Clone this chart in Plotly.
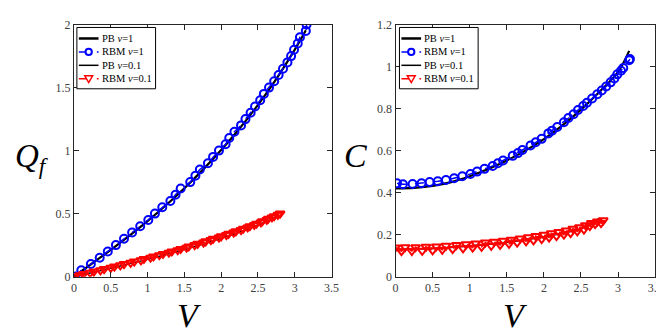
"""Two panel plot: surface charge Q_f and capacitance C against voltage V,
PB curves vs RBM samples for nu=1 and nu=0.1
"""
import plotly.graph_objs as go

# PB nu=1 (solid black)
pb1_v = [0.0, 0.25, 0.5, 0.75, 1.0, 1.25, 1.5, 1.75, 2.0, 2.25, 2.5, 2.75, 3.0, 3.15]
pb1_q = [0.0, 0.106, 0.213, 0.324, 0.441, 0.566, 0.701, 0.847, 1.004, 1.175, 1.363, 1.570, 1.801, 1.955]
pb1_c = [0.420, 0.423, 0.432, 0.450, 0.478, 0.512, 0.553, 0.600, 0.655, 0.720, 0.795, 0.880, 0.975, 1.075]

# RBM nu=1 (blue circles)
rbm1_v = [0.02, 0.10, 0.23, 0.35, 0.46, 0.57, 0.68, 0.79, 0.90, 1.01,
          1.10, 1.20, 1.31, 1.38, 1.45, 1.58, 1.65, 1.71, 1.82, 1.89,
          1.97, 2.06, 2.11, 2.18, 2.27, 2.33, 2.40, 2.46, 2.53, 2.58,
          2.65, 2.72, 2.78, 2.84, 2.90, 2.95, 2.99, 3.04, 3.07, 3.15, 3.16]
rbm1_q = [0.00, 0.05, 0.10, 0.15, 0.20, 0.25, 0.30, 0.35, 0.40, 0.45,
          0.50, 0.55, 0.60, 0.65, 0.70, 0.75, 0.80, 0.85, 0.90, 0.95,
          1.00, 1.05, 1.10, 1.15, 1.20, 1.25, 1.30, 1.35, 1.40, 1.45,
          1.50, 1.55, 1.60, 1.65, 1.70, 1.75, 1.80, 1.85, 1.90, 1.95, 2.00]
rbm1_c = [0.444, 0.440, 0.441, 0.445, 0.450, 0.454, 0.460, 0.468, 0.478, 0.489,
          0.500, 0.513, 0.527, 0.540, 0.553, 0.575, 0.588, 0.603, 0.624, 0.640,
          0.656, 0.682, 0.695, 0.712, 0.735, 0.755, 0.773, 0.793, 0.812, 0.828,
          0.848, 0.868, 0.886, 0.905, 0.925, 0.943, 0.963, 0.980, 0.993, 1.030, 1.036]

# PB nu=0.1 (solid black)
pb01_v = [0.0, 0.25, 0.5, 0.75, 1.0, 1.25, 1.5, 1.75, 2.0, 2.25, 2.5, 2.6, 2.75]
pb01_q = [0.0, 0.033, 0.066, 0.101, 0.137, 0.175, 0.215, 0.258, 0.304, 0.354, 0.410, 0.433, 0.475]
pb01_c = [0.130, 0.131, 0.134, 0.139, 0.146, 0.154, 0.164, 0.176, 0.190, 0.207, 0.228, 0.247, 0.278]

# RBM nu=0.1 (red triangles)
rbm01_v = [0.00, 0.08, 0.13, 0.22, 0.27, 0.36, 0.41, 0.50, 0.55, 0.63,
           0.68, 0.77, 0.82, 0.91, 0.95, 1.04, 1.08, 1.16, 1.21, 1.29,
           1.33, 1.41, 1.45, 1.53, 1.56, 1.64, 1.68, 1.76, 1.79, 1.86,
           1.89, 1.97, 2.00, 2.07, 2.10, 2.17, 2.20, 2.27, 2.30, 2.36,
           2.39, 2.45, 2.48, 2.54, 2.56, 2.62, 2.64, 2.69, 2.72, 2.77, 2.80]
rbm01_q = [0.00, 0.01, 0.02, 0.03, 0.04, 0.05, 0.06, 0.07, 0.08, 0.09,
           0.10, 0.11, 0.12, 0.13, 0.14, 0.15, 0.16, 0.17, 0.18, 0.19,
           0.20, 0.21, 0.22, 0.23, 0.24, 0.25, 0.26, 0.27, 0.28, 0.29,
           0.30, 0.31, 0.32, 0.33, 0.34, 0.35, 0.36, 0.37, 0.38, 0.39,
           0.40, 0.41, 0.42, 0.43, 0.44, 0.45, 0.46, 0.47, 0.48, 0.49, 0.50]
rbm01_c = [0.139, 0.121, 0.140, 0.122, 0.140, 0.123, 0.142, 0.125, 0.144, 0.128,
           0.147, 0.131, 0.150, 0.135, 0.154, 0.138, 0.158, 0.142, 0.162, 0.147,
           0.166, 0.151, 0.171, 0.156, 0.176, 0.162, 0.182, 0.168, 0.187, 0.173,
           0.193, 0.179, 0.199, 0.186, 0.206, 0.193, 0.213, 0.200, 0.220, 0.207,
           0.228, 0.215, 0.235, 0.224, 0.245, 0.241, 0.255, 0.250, 0.262, 0.255, 0.268]

legend_names = ['PB <i>ν</i>=1', 'RBM <i>ν</i>=1', 'PB <i>ν</i>=0.1', 'RBM <i>ν</i>=0.1']

SERIF = 'Liberation Serif'
W, H = 664, 336


def traces(ycol, xaxis, yaxis):
    pb1_y, rbm1_y, pb01_y, rbm01_y = ycol
    common = dict(xaxis=xaxis, yaxis=yaxis, showlegend=False)
    return [
        go.Scatter(x=pb1_v, y=pb1_y, name=legend_names[0], mode='lines',
                   line=dict(color='black', width=2.2, shape='spline'), **common),
        go.Scatter(x=rbm1_v, y=rbm1_y, name=legend_names[1], mode='lines+markers',
                   line=dict(color='#0000ff', width=1.5, dash='dash'),
                   marker=dict(symbol='circle-open', size=8, color='#0000ff',
                               line=dict(width=2)), **common),
        go.Scatter(x=pb01_v, y=pb01_y, name=legend_names[2], mode='lines',
                   line=dict(color='black', width=1.5, shape='spline'), **common),
        go.Scatter(x=rbm01_v, y=rbm01_y, name=legend_names[3], mode='lines+markers',
                   line=dict(color='#ff0000', width=1.5, dash='dash'),
                   marker=dict(symbol='triangle-down-open', size=8, color='#ff0000',
                               line=dict(width=2)), **common),
    ]


data = traces([pb1_q, rbm1_q, pb01_q, rbm01_q], 'x', 'y') + \
       traces([pb1_c, rbm1_c, pb01_c, rbm01_c], 'x2', 'y2')


def axis(domain, rng, dtick, anchor):
    return dict(domain=domain, range=rng, dtick=dtick, anchor=anchor,
                showgrid=False, zeroline=False, showline=True, mirror='ticks',
                linecolor='#262626', linewidth=1, ticks='inside', ticklen=5,
                tickcolor='#262626', tickfont=dict(family=SERIF, size=12, color='#404040'))


def px(x):
    return x / W


def py(y):
    return 1 - y / H


# hand drawn legend box (matlab style: short keys, tight rows)
def legend_box(x0):
    shapes, notes = [], []
    shapes.append(dict(type='rect', xref='paper', yref='paper',
                       x0=px(x0), x1=px(x0 + 80), y0=py(13), y1=py(77),
                       fillcolor='white', line=dict(color='black', width=1)))
    rows = [24.5, 38.5, 52.5, 66.5]
    keys = [('black', 2.5, 'solid'), ('#0000ff', 1.5, 'dash'),
            ('black', 1.5, 'solid'), ('#ff0000', 1.5, 'dash')]
    for row, (col, wid, dash), name in zip(rows, keys, legend_names):
        shapes.append(dict(type='line', xref='paper', yref='paper',
                           x0=px(x0 + 2), x1=px(x0 + 22), y0=py(row), y1=py(row),
                           line=dict(color=col, width=wid, dash=dash)))
        notes.append(dict(text=name, x=px(x0 + 23), y=py(row), xref='paper', yref='paper',
                          xanchor='left', yanchor='middle', showarrow=False,
                          font=dict(family=SERIF, size=10.5, color='black')))
    mx = x0 + 12
    shapes.append(dict(type='circle', xref='paper', yref='paper',
                       x0=px(mx - 3.2), x1=px(mx + 3.2), y0=py(rows[1] + 3.2), y1=py(rows[1] - 3.2),
                       fillcolor='white', line=dict(color='#0000ff', width=2)))
    r = rows[3]
    path = 'M {} {} L {} {} L {} {} Z'.format(px(mx - 4), py(r - 3), px(mx + 4), py(r - 3),
                                              px(mx), py(r + 4))
    shapes.append(dict(type='path', xref='paper', yref='paper', path=path,
                       fillcolor='white', line=dict(color='#ff0000', width=1.5)))
    return shapes, notes


shapes_l, notes_l = legend_box(67)
shapes_r, notes_r = legend_box(395)

labels = [
    dict(text='<i>Q</i><sub><i>f</i></sub>', x=px(2), y=py(150), size=33, xanchor='left'),
    dict(text='<i>V</i>', x=px(182), y=py(314), size=34),
    dict(text='<i>C</i>', x=px(350), y=py(147), size=34),
    dict(text='<i>V</i>', x=px(513), y=py(314), size=34),
]
for lab in labels:
    size = lab.pop('size')
    lab.setdefault('xanchor', 'center')
    lab.update(xref='paper', yref='paper', yanchor='middle',
               showarrow=False, font=dict(family=SERIF, size=size, color='black'))

layout = go.Layout(
    width=W, height=H,
    margin=dict(l=0, r=0, t=0, b=0),
    plot_bgcolor='white', paper_bgcolor='white',
    showlegend=False,
    xaxis=axis([px(64), px(326)], [0, 3.5], 0.5, 'y'),
    yaxis=axis([py(273), py(10)], [0, 2], 0.5, 'x'),
    xaxis2=axis([px(391), px(655)], [0, 3.5], 0.5, 'y2'),
    yaxis2=axis([py(273), py(10)], [0, 1.2], 0.2, 'x2'),
    shapes=shapes_l + shapes_r,
    annotations=labels + notes_l + notes_r,
)

fig = go.Figure(data=data, layout=layout)
fig.write_html("out.html")
